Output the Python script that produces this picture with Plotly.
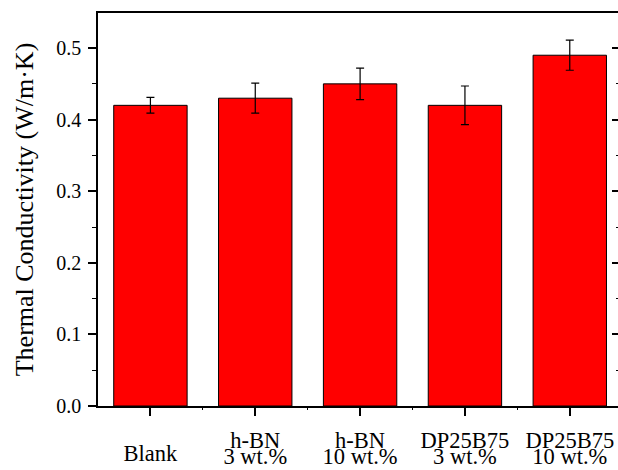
import plotly.graph_objects as go

# ---- data ----
categories = ["Blank", "h-BN\n3 wt.%", "h-BN\n10 wt.%", "DP25B75\n3 wt.%", "DP25B75\n10 wt.%"]
conductivity = [0.42, 0.43, 0.45, 0.42, 0.49]
errors = [0.011, 0.021, 0.022, 0.027, 0.021]
y_tick_vals = [0.0, 0.1, 0.2, 0.3, 0.4, 0.5]
y_tick_text = ["0.0", "0.1", "0.2", "0.3", "0.4", "0.5"]

positions = list(range(len(categories)))
line1 = [c.split("\n")[0] if "\n" in c else "" for c in categories]
line2 = [c.split("\n")[1] if "\n" in c else "" for c in categories]
single = [c if "\n" not in c else "" for c in categories]

FONT = "Liberation Serif, Times New Roman, serif"
XR = [-0.5, 4.46]
YR = [0, 0.549]

fig = go.Figure()
fig.add_trace(go.Bar(
    x=positions, y=conductivity, width=0.7,
    marker=dict(color="#FF0000", line=dict(color="black", width=1)),
    error_y=dict(type="data", array=errors, color="black", thickness=1.2, width=4),
    showlegend=False,
))
# invisible helper traces so the overlaid label/tick axes get drawn
for ax in ["x2", "x3"]:
    fig.add_trace(go.Scatter(x=positions, y=conductivity, xaxis=ax, yaxis="y", mode="none",
                             showlegend=False, hoverinfo="skip"))
fig.add_trace(go.Scatter(x=positions, y=conductivity, xaxis="x", yaxis="y2", mode="none",
                         showlegend=False, hoverinfo="skip"))

common_x = dict(range=XR, tickmode="array", tickvals=positions, showgrid=False, zeroline=False,
                tickfont=dict(family=FONT, size=22.5, color="black"))

fig.update_layout(
    width=618, height=470,
    margin=dict(l=98, r=0, t=13, b=64),
    paper_bgcolor="white", plot_bgcolor="white",
    font=dict(family=FONT, color="black"),
    xaxis=dict(**common_x, ticktext=line1, ticks="outside", ticklen=8, tickwidth=1.5,
               tickcolor="black", showline=True, linecolor="black", linewidth=1.5, mirror=True,
               ticklabelstandoff=5,
               minor=dict(tickmode="array", tickvals=[p + 0.5 for p in positions[:-1]],
                          ticks="outside", ticklen=2, tickcolor="black", tickwidth=1)),
    xaxis2=dict(**common_x, ticktext=line2, overlaying="x", side="bottom", anchor="y",
                ticks="", showline=False, ticklabelstandoff=34),
    xaxis3=dict(**common_x, ticktext=single, overlaying="x", side="bottom", anchor="y",
                ticks="", showline=False, ticklabelstandoff=31),
    yaxis=dict(range=YR, tickmode="array", tickvals=y_tick_vals, ticktext=y_tick_text,
               ticks="outside", ticklen=8, tickwidth=1.5, tickcolor="black",
               showline=True, linecolor="black", linewidth=1.5, mirror=False,
               showgrid=False, zeroline=False, ticklabelstandoff=3,
               tickfont=dict(family=FONT, size=20, color="black"),
               minor=dict(dtick=0.05, ticks="outside", ticklen=4, tickcolor="black", tickwidth=1),
               title=dict(text="Thermal Conductivity (W/m·K)",
                          font=dict(family=FONT, size=26, color="black"), standoff=15)),
    yaxis2=dict(range=YR, overlaying="y", side="right", anchor="x", tickmode="array",
                tickvals=y_tick_vals, showticklabels=False, ticks="inside", ticklen=6,
                tickwidth=1.5, tickcolor="black", showline=False, showgrid=False, zeroline=False,
                minor=dict(dtick=0.05, ticks="inside", ticklen=2, tickcolor="black", tickwidth=1)),
)

fig.write_html("out.html", config={"displayModeBar": False},
               post_script="document.body.style.margin='0';document.body.style.overflow='hidden';")
